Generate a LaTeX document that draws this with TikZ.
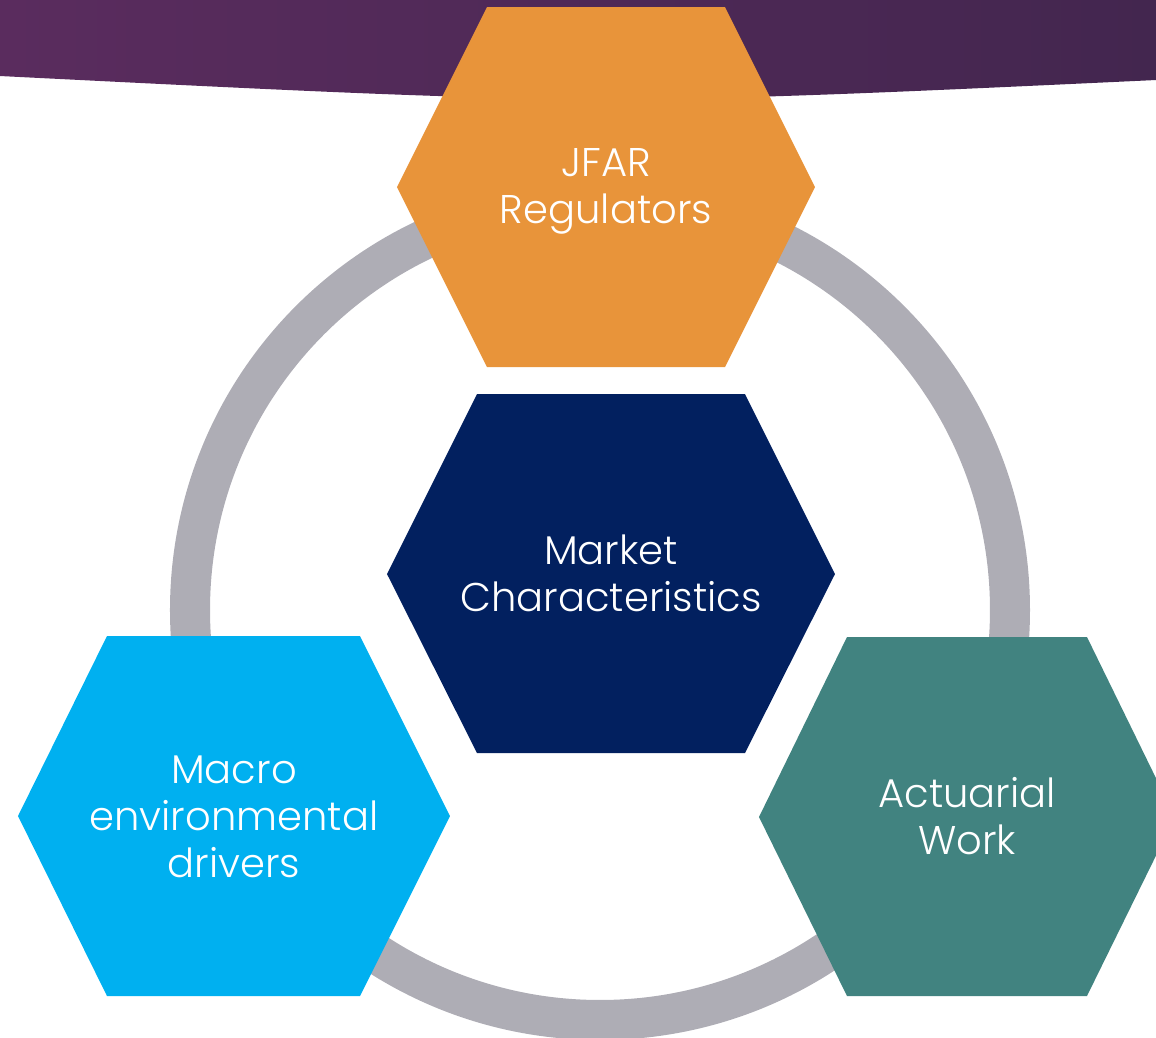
\documentclass[tikz,border=0pt]{standalone}
\usepackage{fontspec}
\setmainfont{Poppins}[UprightFont=* Light]
\usetikzlibrary{positioning}
\definecolor{bandleft}{HTML}{5A2C5E}
\definecolor{bandmid}{HTML}{6A3066}
\definecolor{bandright}{HTML}{43264F}
\definecolor{ringgray}{HTML}{AEADB5}
\definecolor{jfarorange}{HTML}{E8943A}
\definecolor{marketnavy}{HTML}{02205F}
\definecolor{macrocyan}{HTML}{00B0F0}
\definecolor{actuarialteal}{HTML}{418380}
\tikzset{
  hextext/.style={text=white, align=center, inner sep=0pt,
    font=\fontsize{11.4}{13.4}\selectfont},
  ring/.style={draw=ringgray, line width=0.4cm}
}
\begin{document}
\begin{tikzpicture}[x=0.01cm, y=-0.01cm]
\useasboundingbox (0,0) rectangle (1156,1038);
\clip (0,0) rectangle (1156,1038);
% top band
\shade[left color=bandleft, middle color=bandmid, right color=bandright]
  (0,0) -- (1156,0) -- (1156,80) .. controls (600,106) .. (0,76) -- cycle;
% ring behind the hexagons
\draw[ring] (600,610) circle (410);
% hexagons
\fill[jfarorange] (397,187) -- (487,7) -- (725,7) -- (815,187) -- (725,367) -- (487,367) -- cycle;
\fill[marketnavy] (387,574) -- (477,394) -- (745,394) -- (835,574) -- (745,753) -- (477,753) -- cycle;
\fill[macrocyan] (18,816) -- (107,636) -- (360,636) -- (450,816) -- (360,996) -- (107,996) -- cycle;
\fill[actuarialteal] (759,817) -- (847,637) -- (1087,637) -- (1175,817) -- (1087,996) -- (847,996) -- cycle;
% labels
\node[hextext] (jfar) at (606,191) {JFAR\\Regulators};
\node[hextext] (market) at (611,573) {Market\\Characteristics};
\node[hextext] (macro) at (234,817) {Macro\\environmental\\drivers};
\node[hextext] (actuarial) at (967,816) {Actuarial\\Work};
\end{tikzpicture}
\end{document}
